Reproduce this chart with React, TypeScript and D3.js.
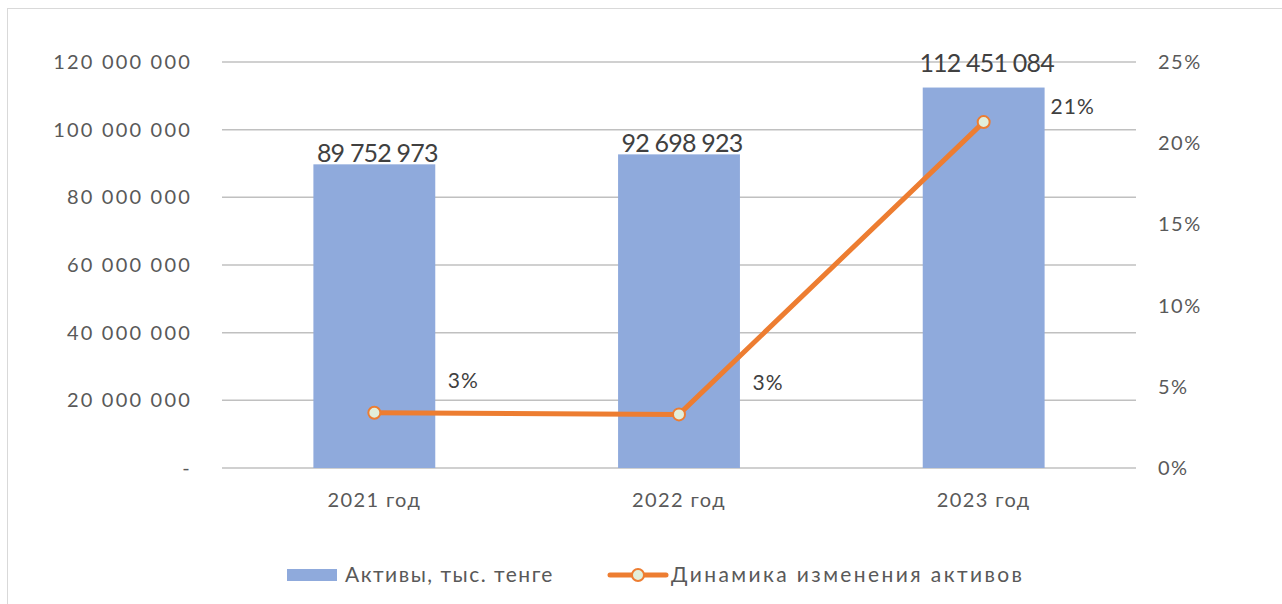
import React, { useEffect, useRef } from 'react';
import * as d3 from 'd3';

// Chart data
const years = ['2021 год', '2022 год', '2023 год'];
const assets = [89752973, 92698923, 112451084];
const growth = [0.034, 0.033, 0.213];
const growthLabels = ['3%', '3%', '21%'];
const leftTicks = [0, 20000000, 40000000, 60000000, 80000000, 100000000, 120000000];
const rightTicks = [0, 0.05, 0.1, 0.15, 0.2, 0.25];
const legendNames = ['Активы, тыс. тенге', 'Динамика изменения активов'];

const W = 1282;
const H = 604;
const FONT = 'Lato, "Open Sans", sans-serif';

const fmtNum = (v: number) => (v === 0 ? '-' : d3.format(',')(v).replace(/,/g, ' '));

const App = () => {
    const ref = useRef<SVGSVGElement>(null);

    useEffect(() => {
        const svg = d3.select(ref.current);
        svg.selectAll('*').remove();

        const margin = { top: 62, right: 146, bottom: 136, left: 222 };
        const innerW = W - margin.left - margin.right;
        const innerH = H - margin.top - margin.bottom;

        // outer frame
        svg.append('rect')
            .attr('x', 7.5).attr('y', 8.5)
            .attr('width', W).attr('height', H)
            .attr('fill', 'white')
            .attr('stroke', '#d9d9d9');

        const g = svg.append('g').attr('transform', `translate(${margin.left},${margin.top})`);

        const x = d3.scaleBand().domain(years).range([0, innerW]).paddingInner(0.6).paddingOuter(0.3);
        const y = d3.scaleLinear().domain([0, 120000000]).range([innerH, 0]);
        const y2 = d3.scaleLinear().domain([0, 0.25]).range([innerH, 0]);

        // gridlines
        g.selectAll('line.grid')
            .data(leftTicks)
            .join('line')
            .attr('class', 'grid')
            .attr('x1', 0).attr('x2', innerW)
            .attr('y1', d => y(d)).attr('y2', d => y(d))
            .attr('stroke', '#c0c0c0')
            .attr('stroke-width', 1.5);

        // left axis
        g.selectAll('text.ly')
            .data(leftTicks)
            .join('text')
            .attr('class', 'ly')
            .attr('x', -30)
            .attr('y', d => y(d))
            .attr('dy', '0.35em')
            .attr('text-anchor', 'end')
            .attr('font-family', FONT)
            .attr('font-size', 20)
            .attr('letter-spacing', 2.2)
            .attr('fill', '#595959')
            .text(d => fmtNum(d));

        // right axis
        g.selectAll('text.ry')
            .data(rightTicks)
            .join('text')
            .attr('class', 'ry')
            .attr('x', innerW + 22)
            .attr('y', d => y2(d))
            .attr('dy', '0.35em')
            .attr('text-anchor', 'start')
            .attr('font-family', FONT)
            .attr('font-size', 20)
            .attr('letter-spacing', 1.5)
            .attr('fill', '#595959')
            .text(d => d3.format('.0%')(d));

        // x labels
        g.selectAll('text.xl')
            .data(years)
            .join('text')
            .attr('class', 'xl')
            .attr('x', d => x(d)! + x.bandwidth() / 2)
            .attr('y', innerH + 32)
            .attr('dy', '0.35em')
            .attr('text-anchor', 'middle')
            .attr('font-family', FONT)
            .attr('font-size', 20)
            .attr('letter-spacing', 1.4)
            .attr('fill', '#595959')
            .text(d => d);

        // bars
        g.selectAll('rect.bar')
            .data(assets)
            .join('rect')
            .attr('class', 'bar')
            .attr('x', (d, i) => x(years[i])!)
            .attr('y', d => y(d))
            .attr('width', x.bandwidth())
            .attr('height', d => innerH - y(d))
            .attr('fill', '#8faadc');

        // bar labels (vertical offsets as placed in the original)
        const barOff = [-2, -2, -16];
        g.selectAll('text.bl')
            .data(assets)
            .join('text')
            .attr('class', 'bl')
            .attr('x', (d, i) => x(years[i])! + x.bandwidth() / 2 + 3)
            .attr('y', (d, i) => y(d) + barOff[i])
            .attr('text-anchor', 'middle')
            .attr('font-family', FONT)
            .attr('font-size', 25)
            .attr('letter-spacing', -0.8)
            .attr('fill', '#404040')
            .text(d => fmtNum(d));

        // growth line
        const cx = (i: number) => x(years[i])! + x.bandwidth() / 2;
        const line = d3.line<number>()
            .x((d, i) => cx(i))
            .y(d => y2(d));

        g.append('path')
            .datum(growth)
            .attr('fill', 'none')
            .attr('stroke', '#ed7d31')
            .attr('stroke-width', 5)
            .attr('stroke-linejoin', 'round')
            .attr('d', line);

        g.selectAll('circle.m')
            .data(growth)
            .join('circle')
            .attr('class', 'm')
            .attr('cx', (d, i) => cx(i))
            .attr('cy', d => y2(d))
            .attr('r', 6)
            .attr('fill', '#e2efda')
            .attr('stroke', '#ed7d31')
            .attr('stroke-width', 2);

        // growth labels (label offsets as placed in the original)
        const offX = [89, 89, 89];
        const offY = [-32, -32, -15];
        g.selectAll('text.gl')
            .data(growth)
            .join('text')
            .attr('class', 'gl')
            .attr('x', (d, i) => cx(i) + offX[i])
            .attr('y', (d, i) => y2(d) + offY[i])
            .attr('dy', '0.35em')
            .attr('text-anchor', 'middle')
            .attr('font-family', FONT)
            .attr('font-size', 21)
            .attr('letter-spacing', 1)
            .attr('fill', '#404040')
            .text((d, i) => growthLabels[i]);

        // legend
        const lg = svg.append('g').attr('transform', 'translate(0,575)');
        lg.append('rect')
            .attr('x', 287).attr('y', -6)
            .attr('width', 50).attr('height', 12)
            .attr('fill', '#8faadc');
        lg.append('text')
            .attr('x', 345).attr('y', 0).attr('dy', '0.35em')
            .attr('font-family', FONT).attr('font-size', 21)
            .attr('letter-spacing', 1.5)
            .attr('fill', '#595959')
            .text(legendNames[0]);
        lg.append('line')
            .attr('x1', 610).attr('x2', 666)
            .attr('y1', 0).attr('y2', 0)
            .attr('stroke', '#ed7d31').attr('stroke-width', 5)
            .attr('stroke-linecap', 'round');
        lg.append('circle')
            .attr('cx', 638).attr('cy', 0).attr('r', 6)
            .attr('fill', '#e2efda')
            .attr('stroke', '#ed7d31').attr('stroke-width', 2);
        lg.append('text')
            .attr('x', 671).attr('y', 0).attr('dy', '0.35em')
            .attr('font-family', FONT).attr('font-size', 21)
            .attr('letter-spacing', 2.4)
            .attr('fill', '#595959')
            .text(legendNames[1]);
    }, []);

    return (
        <svg
            ref={ref}
            width={W}
            height={H}
            style={{ position: 'absolute', left: 0, top: 0, background: 'white' }}
        />
    );
};

export default App;
